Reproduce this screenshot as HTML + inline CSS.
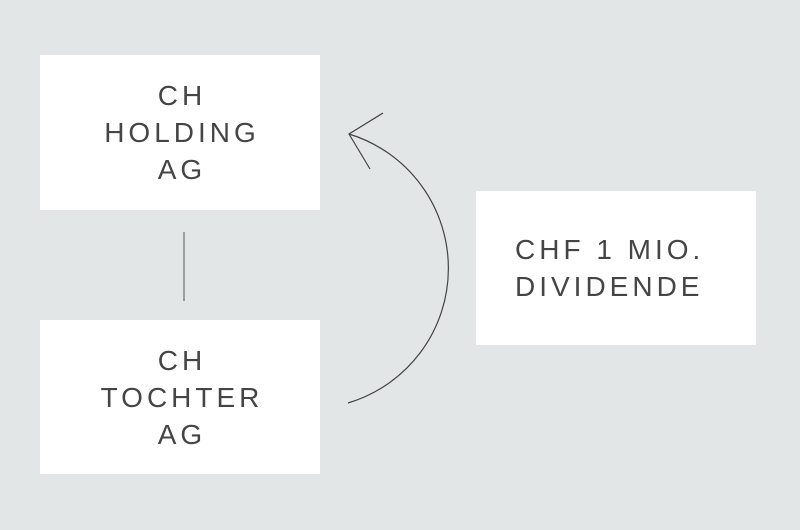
<!DOCTYPE html>
<html><head><style>
body{margin:0;width:800px;height:530px;background:#e3e6e7;position:relative;overflow:hidden;font-family:"Liberation Sans",sans-serif;}
.b{position:absolute;background:#fff;width:280px;display:flex;align-items:center;justify-content:center;text-align:center;color:#454545;font-size:28px;letter-spacing:4px;line-height:37px;}
.b span{margin-right:-4px}
</style></head><body>
<div class="b" style="left:40px;top:55px;height:155px;"><span>CH<br>HOLDING<br>AG</span></div>
<div class="b" style="left:40px;top:320px;height:154px;"><span>CH<br>TOCHTER<br>AG</span></div>
<div class="b" style="left:476px;top:191px;height:154px;justify-content:flex-start;text-align:left;"><span style="margin-left:39px">CHF 1 MIO.<br>DIVIDENDE</span></div>
<svg width="800" height="530" style="position:absolute;left:0;top:0">
<line x1="184" y1="232" x2="184" y2="301" stroke="#555" stroke-width="1"/>
<path d="M348 403 A140.5 140.5 0 0 0 349 134" fill="none" stroke="#444" stroke-width="1.2"/>
<polyline points="383,113 349,134 370,169" fill="none" stroke="#444" stroke-width="1.2"/>
</svg>
</body></html>
